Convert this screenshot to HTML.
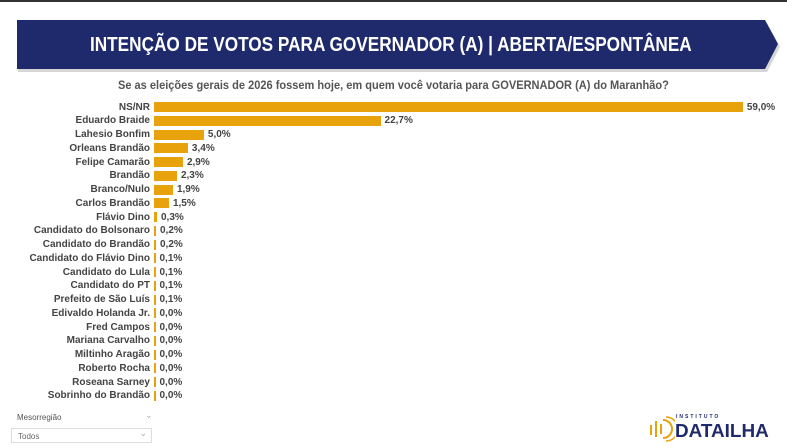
<!DOCTYPE html>
<html><head><meta charset="utf-8"><style>
body{margin:0;width:787px;height:446px;background:#fff;position:relative;overflow:hidden;font-family:"Liberation Sans",sans-serif}
.top{position:absolute;left:0;top:0;width:787px;height:2px;background:#333}
.lbl{position:absolute;right:637px;font-size:10px;font-weight:bold;color:#444;white-space:nowrap;line-height:12px}
.bar{position:absolute;left:154px;height:10px;background:#e8a20c}
.val{position:absolute;font-size:10px;font-weight:bold;color:#444;line-height:12px}
</style></head><body>
<div class="top"></div>
<svg style="position:absolute;left:0;top:0" width="787" height="80">
<polygon points="17,21 766,21 779,45 766,70 17,70" fill="#999" opacity="0.4" transform="translate(1,2)"/>
<polygon points="17,20 765,20 778,44 765,69 17,69" fill="#1f2a6c"/>
</svg>
<div style="position:absolute;left:17px;width:748px;top:33px;text-align:center;color:#fff;font-weight:bold;font-size:20px;line-height:24px;"><span style="display:inline-block;transform:scaleX(0.86)">INTENÇÃO DE VOTOS PARA GOVERNADOR (A) | ABERTA/ESPONTÂNEA</span></div>
<div style="position:absolute;left:0;width:787px;top:78px;text-align:center;color:#555;font-weight:bold;font-size:12px;"><span style="display:inline-block;transform:scaleX(0.92)">Se as eleições gerais de 2026 fossem hoje, em quem você votaria para GOVERNADOR (A) do Maranhão?</span></div>
<div id="c"></div>
<div style="position:absolute;left:17px;top:413px;font-size:8px;color:#555">Mesorregião</div>
<div style="position:absolute;left:145px;top:410px;font-size:9px;color:#aaa">⌄</div>
<div style="position:absolute;left:11px;top:428px;width:141px;height:15px;border:1px solid #ddd;font-size:8px;color:#666;line-height:15px;padding-left:6px;box-sizing:border-box">Todos<span style="position:absolute;right:4px;top:-3px;color:#aaa;font-size:9px">⌄</span></div>
<svg style="position:absolute;left:647px;top:416px" width="28" height="26"><g fill="none" stroke="#e8a20c" stroke-width="2"><path d="M4 9v10M9 5v16M14 8v10"/><path d="M16 4a9 9 0 0 1 0 18"/><path d="M19 1a12 12 0 0 1 0 24" stroke-width="1.5"/></g></svg>
<div style="position:absolute;left:676px;top:414px;font-size:5px;letter-spacing:2px;font-weight:bold;color:#1f2a6c">INSTITUTO</div>
<div style="position:absolute;left:675px;top:421px;font-size:18px;font-weight:bold;color:#1f2a6c;line-height:20px"><span style="display:inline-block;transform:scaleX(1.05);transform-origin:left">DATAILHA</span></div>
<script>
var d=[["NS/NR",59.0],["Eduardo Braide",22.7],["Lahesio Bonfim",5.0],["Orleans Brandão",3.4],["Felipe Camarão",2.9],["Brandão",2.3],["Branco/Nulo",1.9],["Carlos Brandão",1.5],["Flávio Dino",0.3],["Candidato do Bolsonaro",0.2],["Candidato do Brandão",0.2],["Candidato do Flávio Dino",0.1],["Candidato do Lula",0.1],["Candidato do PT",0.1],["Prefeito de São Luís",0.1],["Edivaldo Holanda Jr.",0],["Fred Campos",0],["Mariana Carvalho",0],["Miltinho Aragão",0],["Roberto Rocha",0],["Roseana Sarney",0],["Sobrinho do Brandão",0]];
var h="";d.forEach(function(r,i){var y=107+i*13.76;var w=Math.max(1.5,r[1]*9.98);
h+='<div class="lbl" style="top:'+(y-5.5)+'px">'+r[0]+'</div><div class="bar" style="top:'+(y-5)+'px;width:'+w+'px"></div><div class="val" style="top:'+(y-5.5)+'px;left:'+(154+w+4)+'px">'+r[1].toFixed(1).replace(".",",")+'%</div>';});
document.getElementById("c").innerHTML=h;
</script>
</body></html>
